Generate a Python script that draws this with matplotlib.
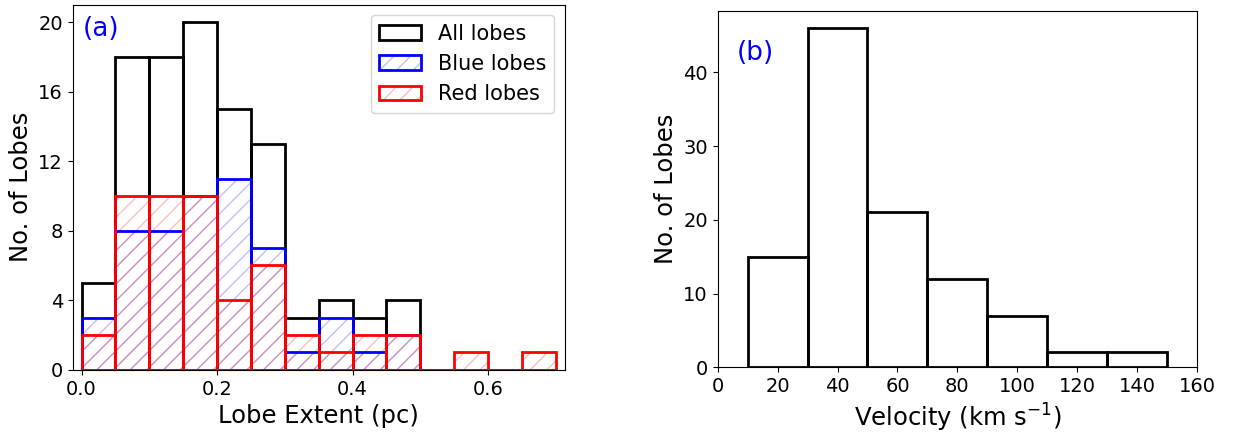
import numpy as np
import matplotlib
matplotlib.use('Agg')
import matplotlib.pyplot as plt
from matplotlib.patches import Patch

# lobe extent histogram, bins of 0.05 pc
extent_edges = [0.0, 0.05, 0.1, 0.15, 0.2, 0.25, 0.3, 0.35, 0.4, 0.45, 0.5, 0.55, 0.6, 0.65, 0.7]
all_lobes = [5, 18, 18, 20, 15, 13, 3, 4, 3, 4, 0, 0, 0, 0]
blue_lobes = [3, 8, 8, 10, 11, 7, 1, 3, 1, 2, 0, 0, 0, 0]
red_lobes = [2, 10, 10, 10, 4, 6, 2, 1, 2, 2, 0, 1, 0, 1]

# velocity histogram, bins of 20 km/s
vel_edges = [10, 30, 50, 70, 90, 110, 130, 150]
vel_counts = [15, 46, 21, 12, 7, 2, 2]

fig = plt.figure(figsize=(12.33, 4.32), dpi=100)
ax1 = fig.add_axes([0.059, 0.144, 0.399, 0.845])
ax2 = fig.add_axes([0.582, 0.150, 0.389, 0.824])

left = extent_edges[:-1]
width = np.diff(extent_edges)
blue_faint = (0, 0, 1, 0.25)
red_faint = (1, 0, 0, 0.25)

# hatch layers first, in faint colours
ax1.bar(left, blue_lobes, width=width, align='edge', fill=False,
        hatch='//', edgecolor=blue_faint, linewidth=0)
ax1.bar(left, red_lobes, width=width, align='edge', fill=False,
        hatch='//', edgecolor=red_faint, linewidth=0)
# then the solid outlines
ax1.bar(left, all_lobes, width=width, align='edge', fill=False,
        edgecolor='k', linewidth=2)
ax1.bar(left, blue_lobes, width=width, align='edge', fill=False,
        edgecolor='b', linewidth=2)
ax1.bar(left, red_lobes, width=width, align='edge', fill=False,
        edgecolor='r', linewidth=2)

ax1.set_xlim(-0.013, 0.713)
ax1.set_ylim(0, 21)
ax1.set_xticks([0.0, 0.2, 0.4, 0.6])
ax1.set_yticks([0, 4, 8, 12, 16, 20])
ax1.tick_params(labelsize=14)
ax1.set_xlabel('Lobe Extent (pc)', fontsize=17.5)
ax1.set_ylabel('No. of Lobes', fontsize=17.5)
ax1.text(0.02, 0.97, '(a)', color='b', fontsize=19, transform=ax1.transAxes,
         ha='left', va='top')

handles = [
    Patch(facecolor='none', edgecolor='k', linewidth=2),
    (Patch(facecolor='none', edgecolor=blue_faint, linewidth=0, hatch='//'),
     Patch(facecolor='none', edgecolor='b', linewidth=2)),
    (Patch(facecolor='none', edgecolor=red_faint, linewidth=0, hatch='//'),
     Patch(facecolor='none', edgecolor='r', linewidth=2)),
]
ax1.legend(handles, ['All lobes', 'Blue lobes', 'Red lobes'], loc='upper right',
           fontsize=15)

ax2.bar(vel_edges[:-1], vel_counts, width=np.diff(vel_edges), align='edge',
        fill=False, edgecolor='k', linewidth=2)
ax2.set_xlim(0, 160)
ax2.set_ylim(0, 48.3)
ax2.set_yticks([0, 10, 20, 30, 40])
ax2.tick_params(labelsize=14)
ax2.set_xlabel(r'Velocity (km s$^{-1}$)', fontsize=17.5)
ax2.set_ylabel('No. of Lobes', fontsize=17.5)
ax2.text(0.04, 0.92, '(b)', color='b', fontsize=19, transform=ax2.transAxes,
         ha='left', va='top')

fig.savefig('out.png', dpi=100)
